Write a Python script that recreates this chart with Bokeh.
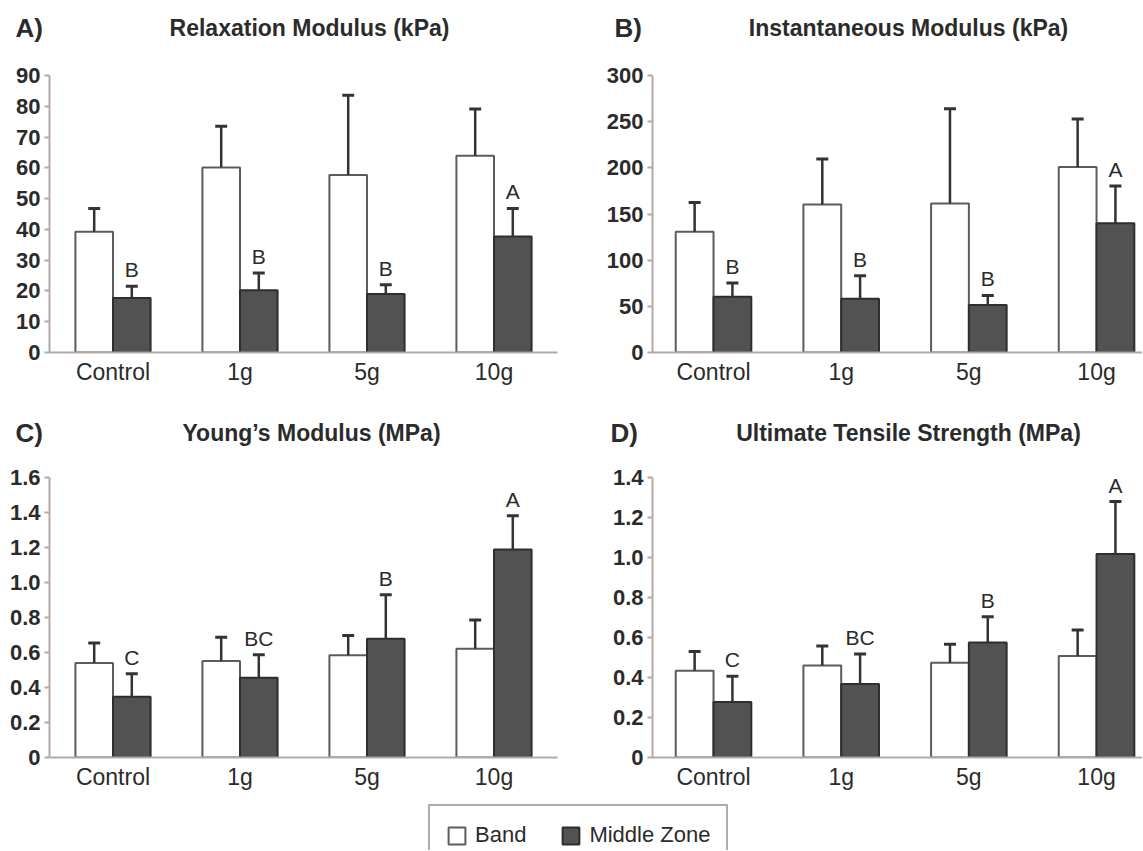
from bokeh.plotting import figure
from bokeh.models import (Range1d, FixedTicker, LabelSet, Label, ColumnDataSource,
                          Legend, LegendItem)
from bokeh.core.properties import value
from bokeh.layouts import column, row
from bokeh.embed import file_html
from bokeh.resources import INLINE

# ---------------- data ----------------
groups = ["Control", "1g", "5g", "10g"]
series_names = ["Band", "Middle Zone"]

relax_band = [39.2, 60.1, 57.7, 63.9]
relax_band_sd = [7.6, 13.4, 25.9, 15.2]
relax_mid = [17.7, 20.2, 19.0, 37.7]
relax_mid_sd = [3.8, 5.6, 3.0, 9.1]
relax_letters = ["B", "B", "B", "A"]
relax_ticks = [0, 10, 20, 30, 40, 50, 60, 70, 80, 90]
relax_tick_labels = ["0", "10", "20", "30", "40", "50", "60", "70", "80", "90"]

inst_band = [130.7, 160.4, 161.4, 201.0]
inst_band_sd = [31.8, 49.2, 102.5, 51.9]
inst_mid = [60.4, 58.2, 51.4, 140.0]
inst_mid_sd = [15.0, 25.0, 10.4, 40.4]
inst_letters = ["B", "B", "B", "A"]
inst_ticks = [0, 50, 100, 150, 200, 250, 300]
inst_tick_labels = ["0", "50", "100", "150", "200", "250", "300"]

young_band = [0.540, 0.551, 0.585, 0.621]
young_band_sd = [0.115, 0.136, 0.112, 0.165]
young_mid = [0.347, 0.456, 0.678, 1.189]
young_mid_sd = [0.132, 0.131, 0.252, 0.193]
young_letters = ["C", "BC", "B", "A"]
young_ticks = [0, 0.2, 0.4, 0.6, 0.8, 1.0, 1.2, 1.4, 1.6]
young_tick_labels = ["0", "0.2", "0.4", "0.6", "0.8", "1.0", "1.2", "1.4", "1.6"]

uts_band = [0.434, 0.460, 0.474, 0.508]
uts_band_sd = [0.096, 0.098, 0.092, 0.129]
uts_mid = [0.278, 0.368, 0.575, 1.018]
uts_mid_sd = [0.128, 0.150, 0.129, 0.262]
uts_letters = ["C", "BC", "B", "A"]
uts_ticks = [0, 0.2, 0.4, 0.6, 0.8, 1.0, 1.2, 1.4]
uts_tick_labels = ["0", "0.2", "0.4", "0.6", "0.8", "1.0", "1.2", "1.4"]

panel_tags = ["A)", "B)", "C)", "D)"]
panel_titles = ["Relaxation Modulus (kPa)", "Instantaneous Modulus (kPa)",
                "Young\u2019s Modulus (MPa)", "Ultimate Tensile Strength (MPa)"]

# ---------------- style ----------------
FONT = "Liberation Sans"
TXT = "#2b2b2b"
AXC = "#b3a9a7"
DARK = "#525252"
BW = 0.296
OFF = BW / 2
CAP = 0.047
TOTAL_W = 1142


def header(items, height):
    """Full-width strip carrying the panel tags and titles of one row."""
    h = figure(width=TOTAL_W, height=height, min_border=0,
               x_range=Range1d(0, TOTAL_W), y_range=Range1d(height, 0),
               x_axis_location=None, y_axis_location=None,
               output_backend="svg", toolbar_location=None)
    h.grid.visible = False
    h.outline_line_color = None
    for tag, title, tag_x, title_x, ty in items:
        h.add_layout(Label(x=tag_x, y=ty, text=tag, text_align="left",
                           text_baseline="middle", text_font=FONT,
                           text_font_size="26px", text_font_style="bold",
                           text_color=TXT))
        h.add_layout(Label(x=title_x, y=ty, text=title, text_align="center",
                           text_baseline="middle", text_font=FONT,
                           text_font_size="23px", text_font_style="bold",
                           text_color=TXT))
    return h


def panel(band, band_sd, mid, mid_sd, letters, ticks, tick_labels,
          ymax, xr, fw, fh, bl, br, bt, bb):
    p = figure(frame_width=fw, frame_height=fh, x_range=Range1d(*xr),
               y_range=Range1d(0, ymax), output_backend="svg",
               toolbar_location=None, min_border_left=bl, min_border_right=br,
               min_border_top=bt, min_border_bottom=bb)
    p.xgrid.visible = False
    p.ygrid.visible = False
    p.outline_line_color = None
    p.background_fill_color = "white"
    p.border_fill_color = "white"

    xs = list(range(len(groups)))
    xb = [i - OFF for i in xs]
    xm = [i + OFF for i in xs]

    p.vbar(x=xb, top=band, bottom=0, width=BW, fill_color="white",
           line_color="#5c5c5c", line_width=2)
    p.vbar(x=xm, top=mid, bottom=0, width=BW, fill_color=DARK,
           line_color="#2e2e2e", line_width=2)

    for xx, m, s in ((xb, band, band_sd), (xm, mid, mid_sd)):
        tops = [a + b for a, b in zip(m, s)]
        p.segment(x0=xx, y0=m, x1=xx, y1=tops, line_color="#333333", line_width=2.5)
        p.segment(x0=[v - CAP for v in xx], y0=tops, x1=[v + CAP for v in xx],
                  y1=tops, line_color="#333333", line_width=3)

    mid_tops = [a + b for a, b in zip(mid, mid_sd)]
    src = ColumnDataSource(dict(x=xm, y=mid_tops, t=letters))
    p.add_layout(LabelSet(x="x", y="y", text="t", source=src, y_offset=9,
                          text_align="center", text_baseline="alphabetic",
                          text_font=value(FONT), text_font_size="21px",
                          text_color=TXT))

    # axes
    p.xaxis.ticker = FixedTicker(ticks=xs)
    p.xaxis.major_label_overrides = {i: g for i, g in enumerate(groups)}
    p.xaxis.major_tick_line_color = None
    p.xaxis.minor_tick_line_color = None
    p.xaxis.axis_line_color = AXC
    p.xaxis.axis_line_width = 2
    p.xaxis.major_label_text_font = FONT
    p.xaxis.major_label_text_font_size = "23px"
    p.xaxis.major_label_text_color = TXT
    p.xaxis.major_label_standoff = 0

    p.yaxis.ticker = FixedTicker(ticks=ticks)
    p.yaxis.major_label_overrides = dict(zip(ticks, tick_labels))
    p.yaxis.minor_tick_line_color = None
    p.yaxis.major_tick_out = 5
    p.yaxis.major_tick_in = 0
    p.yaxis.major_tick_line_color = AXC
    p.yaxis.major_tick_line_width = 2
    p.yaxis.axis_line_color = AXC
    p.yaxis.axis_line_width = 2
    p.yaxis.major_label_text_font = FONT
    p.yaxis.major_label_text_font_size = "22px"
    p.yaxis.major_label_text_font_style = "bold"
    p.yaxis.major_label_text_color = TXT
    p.yaxis.major_label_standoff = 4
    return p


HEAD = 60
h1 = header([(panel_tags[0], panel_titles[0], 15, 309, 27),
             (panel_tags[1], panel_titles[1], 614, 908, 27)], HEAD)
h2 = header([(panel_tags[2], panel_titles[2], 15, 311, 32),
             (panel_tags[3], panel_titles[3], 610, 908, 32)], HEAD)

pA = panel(relax_band, relax_band_sd, relax_mid, relax_mid_sd, relax_letters,
           relax_ticks, relax_tick_labels, 90, (-0.5, 3.5), 508, 277, 49, 11, 15, 48)
pB = panel(inst_band, inst_band_sd, inst_mid, inst_mid_sd, inst_letters,
           inst_ticks, inst_tick_labels, 300, (-0.478, 3.36), 490, 277, 84, 0, 15, 48)
pC = panel(young_band, young_band_sd, young_mid, young_mid_sd, young_letters,
           young_ticks, young_tick_labels, 1.6, (-0.5, 3.5), 508, 280, 49, 11, 17, 43)
pD = panel(uts_band, uts_band_sd, uts_mid, uts_mid_sd, uts_letters,
           uts_ticks, uts_tick_labels, 1.4, (-0.478, 3.36), 490, 280, 84, 0, 17, 43)

# ---------------- legend strip ----------------
pl = figure(width=TOTAL_W, height=50, min_border=0, x_range=Range1d(0, 1),
            y_range=Range1d(0, 1), x_axis_location=None, y_axis_location=None,
            output_backend="svg", toolbar_location=None)
pl.grid.visible = False
pl.outline_line_color = None
r_band = pl.vbar(x=[0.5], top=[0.5], width=0.1, fill_color="white",
                 line_color="#5c5c5c", line_width=2, visible=False)
r_mid = pl.vbar(x=[0.5], top=[0.5], width=0.1, fill_color=DARK,
                line_color="#2e2e2e", line_width=2, visible=False)
legend = Legend(items=[LegendItem(label=series_names[0], renderers=[r_band]),
                       LegendItem(label=series_names[1], renderers=[r_mid])],
                orientation="horizontal", location=(428, -16), padding=16,
                spacing=34, label_standoff=8, glyph_width=21, glyph_height=21,
                label_text_font=FONT, label_text_font_size="22px",
                label_text_color=TXT, border_line_color="#5a5a5a",
                border_line_width=2, background_fill_color="white", margin=0,
                inactive_fill_alpha=0.0)
pl.add_layout(legend, "center")

layout = column(h1, row(pA, pB), h2, row(pC, pD), pl)
open("out.html", "w").write(file_html(layout, INLINE))
